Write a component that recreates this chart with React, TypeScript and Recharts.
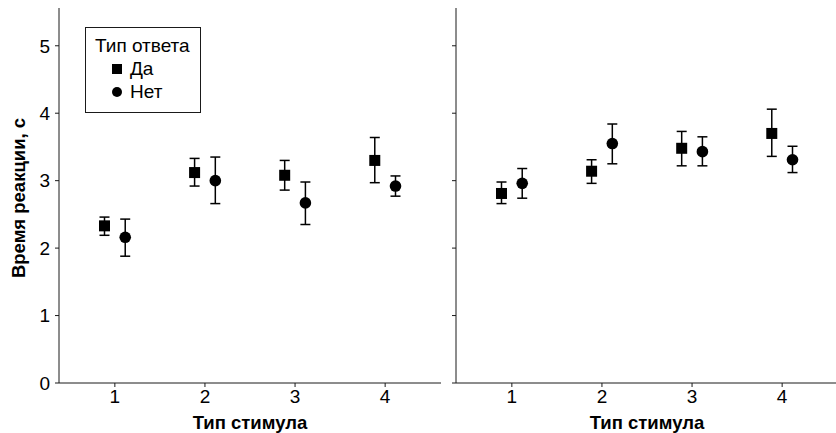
import { ScatterChart, Scatter, XAxis, YAxis, ErrorBar, Legend, Label } from 'recharts';

const stimulusTypes = [1, 2, 3, 4];
const seriesNames = ['Да', 'Нет'];
const yTicks = [0, 1, 2, 3, 4, 5];
const xDomain = [0.38, 4.62];
const yDomain = [0, 5.56];
const dodge = 0.115;

// left panel
const leftYesMean = [2.33, 3.12, 3.08, 3.3];
const leftYesLow = [2.19, 2.92, 2.86, 2.97];
const leftYesHigh = [2.46, 3.33, 3.3, 3.64];
const leftNoMean = [2.16, 3.0, 2.67, 2.92];
const leftNoLow = [1.88, 2.66, 2.35, 2.77];
const leftNoHigh = [2.43, 3.35, 2.98, 3.07];

// right panel
const rightYesMean = [2.81, 3.14, 3.48, 3.7];
const rightYesLow = [2.66, 2.96, 3.22, 3.36];
const rightYesHigh = [2.98, 3.31, 3.73, 4.06];
const rightNoMean = [2.96, 3.55, 3.43, 3.31];
const rightNoLow = [2.74, 3.25, 3.22, 3.12];
const rightNoHigh = [3.18, 3.84, 3.65, 3.51];

const FONT = '"Liberation Sans", Arial, sans-serif';
const INK = '#1a1a1a';
const TICK_SIZE = 19;
const TITLE_SIZE = 18.5;

const toPoints = (mean: number[], low: number[], high: number[], shift: number) =>
    stimulusTypes.map((s, i) => ({
        x: s + shift,
        y: mean[i],
        err: [mean[i] - low[i], high[i] - mean[i]],
    }));

const SquareShape = (p: any) => <rect x={p.cx - 5.5} y={p.cy - 5.5} width={11} height={11} fill="#000" />;
const CircleShape = (p: any) => <circle cx={p.cx} cy={p.cy} r={5.8} fill="#000" />;

const XTitle = (p: any) => {
    const vb = p.viewBox;
    return (
        <text x={vb.x + vb.width / 2} y={vb.y + vb.height - 4} textAnchor="middle" fill="#000" fontSize={TITLE_SIZE} fontWeight="bold" fontFamily={FONT}>
            {p.value}
        </text>
    );
};

const YTitle = (p: any) => {
    const vb = p.viewBox;
    return (
        <g transform={`translate(${vb.x + 18},${vb.y + vb.height / 2 + 2.5}) rotate(-90)`}>
            <text textAnchor="middle" dy="0.355em" fill="#000" fontSize={TITLE_SIZE} fontWeight="bold" fontFamily={FONT}>
                {p.value}
            </text>
        </g>
    );
};

const LegendBox = () => (
    <div
        style={{
            border: `1px solid ${INK}`,
            width: 116,
            height: 86,
            boxSizing: 'border-box',
            fontFamily: FONT,
            fontSize: TICK_SIZE,
            color: '#000',
            paddingLeft: 9,
            paddingTop: 6,
            lineHeight: '23px',
            background: '#fff',
            whiteSpace: 'nowrap',
        }}
    >
        <div>Тип ответа</div>
        {seriesNames.map((name, i) => (
            <div key={name} style={{ display: 'flex', alignItems: 'center', paddingLeft: 17 }}>
                <svg width={10} height={10} style={{ marginRight: 8 }}>
                    {i === 0 ? <rect x={0} y={0} width={10} height={10} fill="#000" /> : <circle cx={5} cy={5} r={5} fill="#000" />}
                </svg>
                <span>{name}</span>
            </div>
        ))}
    </div>
);

interface PanelProps {
    yes: { x: number; y: number; err: number[] }[];
    no: { x: number; y: number; err: number[] }[];
    width: number;
    yAxisWidth: number;
    rightMargin: number;
    showYLabels: boolean;
    showLegend: boolean;
}

const Panel = ({ yes, no, width, yAxisWidth, rightMargin, showYLabels, showLegend }: PanelProps) => (
    <ScatterChart width={width} height={433} margin={{ top: 8, right: rightMargin, bottom: 0, left: 0 }}>
        <XAxis
            type="number"
            dataKey="x"
            domain={xDomain}
            allowDataOverflow
            ticks={stimulusTypes}
            height={50}
            tickSize={4}
            tickMargin={3}
            stroke={INK}
            tick={{ fill: '#000', fontSize: TICK_SIZE, fontFamily: FONT }}
        >
            <Label value="Тип стимула" content={<XTitle />} />
        </XAxis>
        <XAxis xAxisId="top" orientation="top" type="number" domain={xDomain} allowDataOverflow height={0} tick={false} tickLine={false} stroke={INK} />
        <YAxis
            type="number"
            dataKey="y"
            domain={yDomain}
            allowDataOverflow
            ticks={yTicks}
            width={yAxisWidth}
            tickSize={4}
            tickMargin={5}
            stroke={INK}
            tickFormatter={showYLabels ? undefined : () => ''}
            tick={{ fill: '#000', fontSize: TICK_SIZE, fontFamily: FONT }}
        >
            {showYLabels && <Label value="Время реакции, с" content={<YTitle />} />}
        </YAxis>
        <YAxis yAxisId="right" orientation="right" type="number" domain={yDomain} allowDataOverflow width={0} tick={false} tickLine={false} stroke={INK} />
        {showLegend && (
            <Legend
                layout="vertical"
                align="center"
                verticalAlign="middle"
                content={() => <LegendBox />}
                wrapperStyle={{ left: 85, top: 27, width: 116 }}
            />
        )}
        <Scatter name={seriesNames[0]} data={yes} shape={SquareShape} isAnimationActive={false}>
            <ErrorBar dataKey="err" direction="y" width={5} stroke="#000" strokeWidth={1.5} />
        </Scatter>
        <Scatter name={seriesNames[1]} data={no} shape={CircleShape} isAnimationActive={false}>
            <ErrorBar dataKey="err" direction="y" width={5} stroke="#000" strokeWidth={1.5} />
        </Scatter>
    </ScatterChart>
);

export default function App() {
    return (
        <div style={{ position: 'absolute', left: 0, top: 0, width: 836, height: 433, overflow: 'hidden', background: '#fff' }}>
            <div style={{ position: 'absolute', left: 0, top: 0 }}>
                <Panel
                    yes={toPoints(leftYesMean, leftYesLow, leftYesHigh, -dodge)}
                    no={toPoints(leftNoMean, leftNoLow, leftNoHigh, dodge)}
                    width={450}
                    yAxisWidth={59}
                    rightMargin={9}
                    showYLabels
                    showLegend
                />
            </div>
            <div style={{ position: 'absolute', left: 400, top: 0 }}>
                <Panel
                    yes={toPoints(rightYesMean, rightYesLow, rightYesHigh, -dodge)}
                    no={toPoints(rightNoMean, rightNoLow, rightNoHigh, dodge)}
                    width={440}
                    yAxisWidth={56}
                    rightMargin={2}
                    showYLabels={false}
                    showLegend={false}
                />
            </div>
        </div>
    );
}
